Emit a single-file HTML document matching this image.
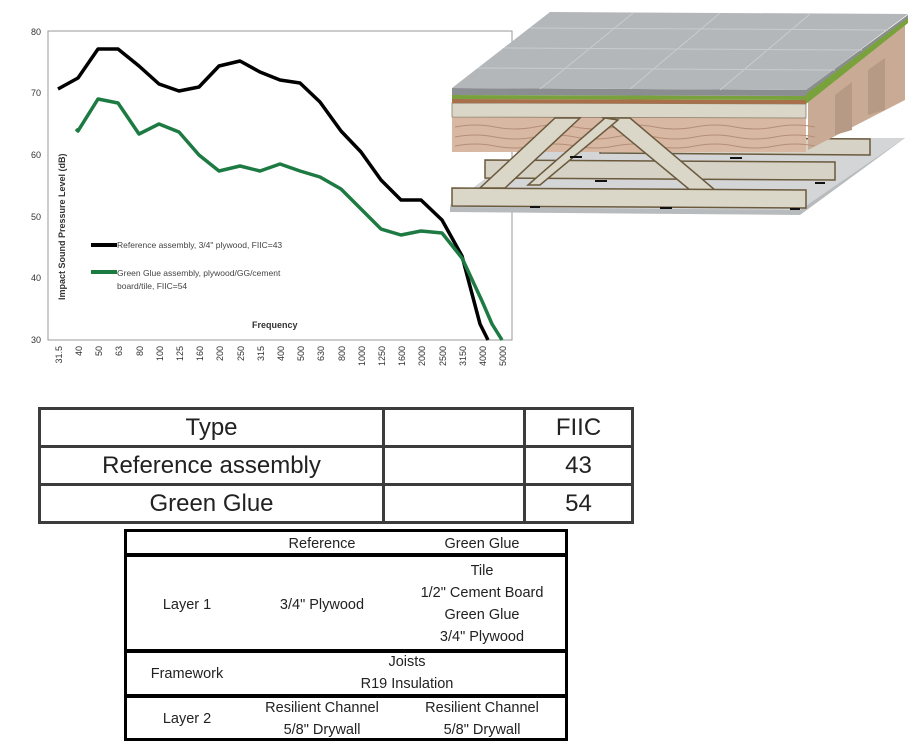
<!DOCTYPE html>
<html><head><meta charset="utf-8"><style>
body{margin:0;width:918px;height:754px;background:#fff;position:relative;overflow:hidden;font-family:"Liberation Sans",sans-serif}
svg{position:absolute;left:0;top:0}
.t1{position:absolute;left:38px;top:407px;border-collapse:collapse}
.t1 td{border:3px solid #3c3c3c;height:35px;font-size:24px;color:#222;text-align:center;padding:0;line-height:30px}
.t2{position:absolute;left:124px;top:529px;width:444px;height:212px;border:3px solid #000;box-sizing:border-box}
.t2 div{position:absolute;font-size:14.5px;color:#222;text-align:center;line-height:22px}
.hl{position:absolute;left:0;width:438px;height:4px;background:#000}
</style></head><body>
<svg width="918" height="754">
<rect x="48" y="31" width="464" height="309" fill="none" stroke="#999" stroke-width="1"/>
<g font-size="9" fill="#333" text-anchor="end">
<text x="41" y="35">80</text><text x="41" y="96">70</text><text x="41" y="158">60</text><text x="41" y="220">50</text><text x="41" y="281">40</text><text x="41" y="343">30</text>
</g>
<text transform="translate(65,300) rotate(-90)" font-size="9" font-weight="bold" fill="#333">Impact Sound Pressure Level (dB)</text>
<text x="252" y="328" font-size="9" font-weight="bold" fill="#333">Frequency</text>
<g font-size="9" fill="#333" text-anchor="end">
<text transform="translate(62,346) rotate(-90)">31.5</text><text transform="translate(82,346) rotate(-90)">40</text><text transform="translate(102,346) rotate(-90)">50</text><text transform="translate(122,346) rotate(-90)">63</text><text transform="translate(143,346) rotate(-90)">80</text><text transform="translate(163,346) rotate(-90)">100</text><text transform="translate(183,346) rotate(-90)">125</text><text transform="translate(203,346) rotate(-90)">160</text><text transform="translate(223,346) rotate(-90)">200</text><text transform="translate(244,346) rotate(-90)">250</text><text transform="translate(264,346) rotate(-90)">315</text><text transform="translate(284,346) rotate(-90)">400</text><text transform="translate(304,346) rotate(-90)">500</text><text transform="translate(324,346) rotate(-90)">630</text><text transform="translate(345,346) rotate(-90)">800</text><text transform="translate(365,346) rotate(-90)">1000</text><text transform="translate(385,346) rotate(-90)">1250</text><text transform="translate(405,346) rotate(-90)">1600</text><text transform="translate(425,346) rotate(-90)">2000</text><text transform="translate(446,346) rotate(-90)">2500</text><text transform="translate(466,346) rotate(-90)">3150</text><text transform="translate(486,346) rotate(-90)">4000</text><text transform="translate(506,346) rotate(-90)">5000</text>
</g>
<polyline fill="none" stroke="#000" stroke-width="3.5" stroke-linejoin="round" points="58,89 78,78 98,49 118,49 139,66 159,84 179,91 199,87 219,66 240,61 260,72 280,80 300,83 320,102 341,131 361,152 381,180 401,200 421,200 442,220 462,256 480,324 488,340"/>
<polyline fill="none" stroke="#1e7a43" stroke-width="3.5" stroke-linejoin="round" points="76,129 78,131 98,99 118,103 139,134 159,124 179,132 199,155 219,171 240,166 260,171 280,164 300,171 320,177 341,189 361,209 381,229 401,235 421,231 442,233 462,258 482,301 492,324 502,340"/>
<rect x="91" y="243" width="26" height="4" fill="#000"/>
<text x="117" y="248" font-size="8.5" fill="#444">Reference assembly, 3/4" plywood, FIIC=43</text>
<rect x="91" y="270" width="26" height="4" fill="#1e7a43"/>
<text x="117" y="276" font-size="8.5" fill="#444">Green Glue assembly, plywood/GG/cement</text>
<text x="117" y="289" font-size="8.5" fill="#444">board/tile, FIIC=54</text>
<polygon points="450,205 540,138 905,138 800,215 450,212" fill="#b8bbbd"/>
<polygon points="450,205 540,138 905,138 800,210 450,207" fill="#d3d5d6"/>
<polygon points="485,160 835,162 835,180 485,178" fill="#d6d3c6" stroke="#6b5a3e" stroke-width="1.5"/>
<polygon points="600,137 870,139 870,155 600,153" fill="#d6d3c6" stroke="#6b5a3e" stroke-width="1.5"/>
<polygon points="808,93 905,22 905,100 808,150" fill="#c9ab95"/>
<polygon points="835,95 852,82 852,130 835,135" fill="#b69a85"/>
<polygon points="868,70 885,58 885,110 868,115" fill="#b69a85"/>
<polygon points="452,117 806,118 806,152 452,152" fill="#d8b8a2"/>
<path d="M455,127 q20,-4 40,0 t40,0 t40,0 t40,0 t40,0 t40,0 t40,0 t40,0 t40,0 M455,137 q20,-4 40,0 t40,0 t40,0 t40,0 t40,0 t40,0 t40,0 t40,0 t40,0 M455,146 q20,-4 40,0 t40,0 t40,0 t40,0 t40,0 t40,0 t40,0 t40,0 t40,0" fill="none" stroke="#b48e78" stroke-width="1"/>
<polygon points="452,103 806,104 806,118 452,117" fill="#dad6c8" stroke="#8a7c66" stroke-width="0.8"/>
<polygon points="452,99 806,100 806,104 452,103" fill="#a8704a"/>
<polygon points="452,95 806,96 806,100 452,99" fill="#7aa23c"/>
<polygon points="452,88 806,90 806,96 452,95" fill="#8b8e90"/>
<polygon points="806,90 908,15 908,23 806,104" fill="#7aa23c"/>
<polygon points="806,90 908,15 908,18 806,94" fill="#8b8e90"/>
<polygon points="452,88 550,12 908,14 806,90" fill="#b4b7ba"/>
<g stroke="#c9cbcd" stroke-width="1" fill="none">
<path d="M478,68 L835,70 M504,48 L862,50 M530,28 L888,30"/>
<path d="M540,89 L633,13 M630,89 L720,13 M720,90 L810,14"/>
</g>
<polygon points="555,118 580,118 505,188 480,188" fill="#dad6c8" stroke="#6b5a3e" stroke-width="1.5"/>
<polygon points="603,118 630,118 715,190 690,190" fill="#dad6c8" stroke="#6b5a3e" stroke-width="1.5"/>
<polygon points="605,118 618,120 540,185 528,185" fill="#dad6c8" stroke="#6b5a3e" stroke-width="1.5"/>
<polygon points="452,188 806,190 806,208 452,206" fill="#dad6c8" stroke="#6b5a3e" stroke-width="1.5"/>
<g stroke="#111" stroke-width="2"><path d="M530,207h10M660,208h12M790,209h10M595,181h12M570,157h12M730,158h12M815,183h10"/></g>
</svg>
<table class="t1">
<tr><td style="width:341px">Type</td><td style="width:138px"></td><td style="width:105px">FIIC</td></tr>
<tr><td>Reference assembly</td><td></td><td>43</td></tr>
<tr><td>Green Glue</td><td></td><td>54</td></tr>
</table>
<div class="t2">
<div class="hl" style="top:21px"></div>
<div class="hl" style="top:117px"></div>
<div class="hl" style="top:162px"></div>
<div style="left:130px;width:130px;top:1px">Reference</div>
<div style="left:290px;width:130px;top:1px">Green Glue</div>
<div style="left:10px;width:100px;top:62px">Layer 1</div>
<div style="left:130px;width:130px;top:62px">3/4" Plywood</div>
<div style="left:275px;width:160px;top:28px">Tile<br>1/2" Cement Board<br>Green Glue<br>3/4" Plywood</div>
<div style="left:0;width:120px;top:131px">Framework</div>
<div style="left:180px;width:200px;top:119px">Joists<br>R19 Insulation</div>
<div style="left:10px;width:100px;top:176px">Layer 2</div>
<div style="left:115px;width:160px;top:165px">Resilient Channel<br>5/8" Drywall</div>
<div style="left:275px;width:160px;top:165px">Resilient Channel<br>5/8" Drywall</div>
</div>
</body></html>
